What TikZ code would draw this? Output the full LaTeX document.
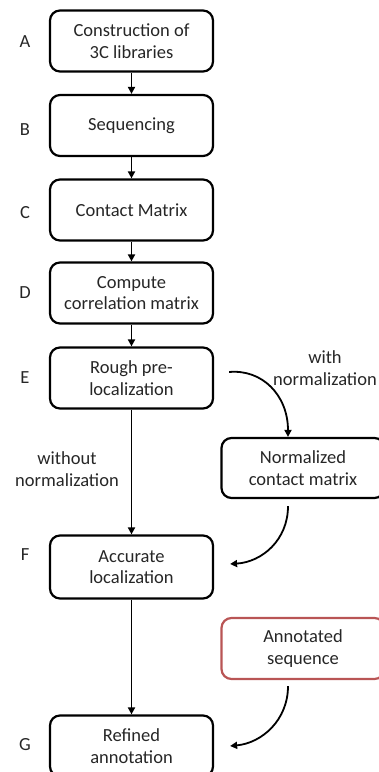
\documentclass[tikz,border=0pt]{standalone}
\usepackage{fontspec}
\setmainfont{Carlito}
\usetikzlibrary{arrows.meta}
\definecolor{boxred}{RGB}{185,85,85}
\newcommand\diagfont{\fontsize{18.5bp}{21.5bp}\selectfont}
\begin{document}
\begin{tikzpicture}[x=1bp,y=-1bp,
  box/.style={draw=black, line width=2.2bp, rounded corners=10bp, minimum width=163bp,
    minimum height=61bp, align=center, inner sep=0pt, font=\diagfont, text=black!85},
  redbox/.style={box, draw=boxred},
  arr/.style={-{Triangle[length=7bp,width=7bp]}, line width=1.8bp},
  lab/.style={font=\diagfont, inner sep=0pt, align=center, text=black!85}]
\useasboundingbox (0,0) rectangle (378,772);
\node[box] (A) at (131.5,41) {Construction of\\3C libraries};
\node[box] (B) at (131.5,125.5) {Sequencing};
\node[box] (C) at (131.5,210) {Contact Matrix};
\node[box] (D) at (131.5,293) {Compute\\correlation matrix};
\node[box] (E) at (131.5,378) {Rough pre-\\localization};
\node[box, minimum height=63bp] (F) at (131.5,567) {Accurate\\localization};
\node[box] (G) at (131.5,746) {Refined\\annotation};
\node[box, minimum height=60bp] (N) at (303,468) {Normalized\\contact matrix};
\node[redbox] (R) at (303,648.5) {Annotated\\sequence};

\node[lab] (lA) at (25,42) {A};
\node[lab] (lB) at (25,130) {B};
\node[lab] (lC) at (25,213) {C};
\node[lab] (lD) at (25,293) {D};
\node[lab] (lE) at (25,378) {E};
\node[lab] (lF) at (25,555) {F};
\node[lab] (lG) at (25,745) {G};

\node[lab] (with) at (325,368) {with\\normalization};
\node[lab] (without) at (67,469) {without\\normalization};

\draw[arr] (A) -- (B);
\draw[arr] (B) -- (C);
\draw[arr] (C) -- (D);
\draw[arr] (D) -- (E);
\draw[arr] (E) -- (F);
\draw[arr] (F) -- (G);

\draw[arr] ([shift={(15,-6)}]E.east) .. controls (262,369) and (288,395) .. ([xshift=-15bp]N.north);
\draw[arr] ([shift={(-15,7)}]N.south) .. controls (288,540) and (262,562) .. ([shift={(16,-3)}]F.east);
\draw[arr] ([shift={(-15,6)}]R.south) .. controls (288,720) and (262,743) .. ([xshift=16bp]G.east);
\end{tikzpicture}
\end{document}
